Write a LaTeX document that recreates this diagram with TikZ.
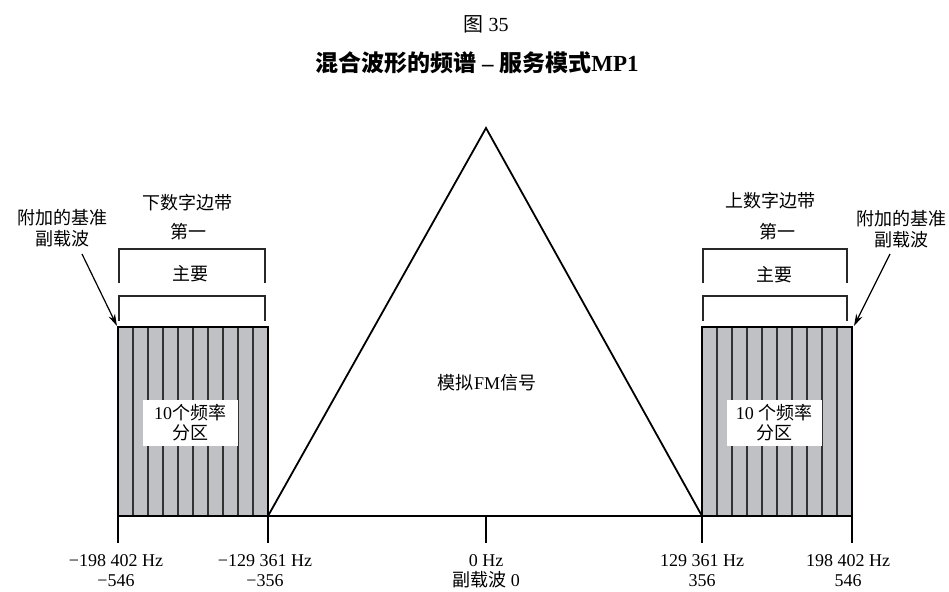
\documentclass[tikz,border=0pt]{standalone}
\usepackage{fontspec}
\setmainfont{Liberation Serif}
\newfontfamily\cjk{Noto Sans CJK SC}
\usetikzlibrary{calc,arrows.meta}
\definecolor{bandgray}{RGB}{192,193,197}
\definecolor{stripegray}{RGB}{50,50,50}
\definecolor{brgray}{RGB}{40,40,40}
\tikzset{
  lbl/.style={inner sep=0pt, font=\fontsize{18}{21}\selectfont, align=center},
  band/.style={draw=black, line width=2.4pt, fill=bandgray, inner sep=0pt, outer sep=0pt, anchor=north west},
  stripe/.style={draw=stripegray, line width=1.2pt},
  brk/.style={draw=brgray, line width=1.2pt},
  axis/.style={draw=black, line width=1.8pt},
  tick/.style={draw=black, line width=1.4pt},
  arr/.style={draw=black, line width=1.2pt, -{Stealth[length=12pt,width=7pt]}},
  whitebox/.style={fill=white, inner sep=0pt, minimum width=95pt, minimum height=46pt, font=\fontsize{18}{20}\selectfont, align=center},
}
\begin{document}
\begin{tikzpicture}[x=1pt,y=-1pt]
\path[use as bounding box] (0,0) rectangle (949,591);
% titles
\node[lbl, font=\fontsize{20}{22}\selectfont] (fig) at (486,24) {{\cjk 图} 35};
\node[lbl, font=\fontsize{23}{26}\selectfont\bfseries] (title) at (477,63) {{\cjk\bfseries 混合波形的频谱} – {\cjk\bfseries 服务模式}MP1};
% bands
\node[band, minimum width=150pt, minimum height=189pt] (lb) at (118,327) {};
\node[band, minimum width=150pt, minimum height=189pt] (rb) at (702,327) {};
\foreach \k in {1,...,9}{
  \draw[stripe] ($(lb.north west)!\k/10!(lb.north east)$) -- ($(lb.south west)!\k/10!(lb.south east)$);
  \draw[stripe] ($(rb.north west)!\k/10!(rb.north east)$) -- ($(rb.south west)!\k/10!(rb.south east)$);
}
\draw[draw=black, line width=2.4pt] (lb.north west) rectangle (lb.south east);
\draw[draw=black, line width=2.4pt] (rb.north west) rectangle (rb.south east);
% triangle
\coordinate (apex) at (486,128);
\draw[axis, line join=miter] (lb.south east) -- (apex) -- (rb.south west);
% axis and ticks
\draw[axis] (lb.south west) -- (rb.south east);
\coordinate (zero) at (486,516);
\draw[tick] (lb.south west) -- ++(0,27);
\draw[tick] (lb.south east) -- ++(0,27);
\draw[tick] (zero) -- ++(0,27);
\draw[tick] (rb.south west) -- ++(0,27);
\draw[tick] (rb.south east) -- ++(0,27);
% brackets left
\draw[brk] (119,283) -- (119,249) -- (265,249) -- (265,283);
\draw[brk] (119,321) -- (119,296) -- (265,296) -- (265,321);
% brackets right
\draw[brk] (703,283) -- (703,249) -- (847,249) -- (847,283);
\draw[brk] (703,321) -- (703,296) -- (847,296) -- (847,321);
% labels above
\node[lbl] (lsb) at (187,203) {\cjk 下数字边带};
\node[lbl] (lfirst) at (188,232) {\cjk 第一};
\node[lbl] (lmain) at (190,274) {\cjk 主要};
\node[lbl] (usb) at (770,201) {\cjk 上数字边带};
\node[lbl] (ufirst) at (777,232) {\cjk 第一};
\node[lbl] (umain) at (774,275) {\cjk 主要};
\node[lbl] (lnote) at (62,228) {\cjk 附加的基准\\\cjk 副载波};
\node[lbl] (rnote) at (901,229) {\cjk 附加的基准\\\cjk 副载波};
\coordinate (la) at (82,254);
\coordinate (ra) at (890,254);
\draw[arr] (la) -- ($(lb.north west)+(-1,-1)$);
\draw[arr] (ra) -- ($(rb.north east)+(2,-1)$);
% center label
\node[lbl] (fm) at (487,383) {{\cjk 模拟}FM{\cjk 信号}};
% partition boxes
\node[whitebox] (lpart) at (190,423) {10{\cjk 个频率}\\{\cjk 分区}};
\node[whitebox] (rpart) at (774,423) {10 {\cjk 个频率}\\{\cjk 分区}};
% bottom labels
\node[lbl] (f1) at (116,561) {−198 402 Hz};
\node[lbl] (s1) at (116,581) {−546};
\node[lbl] (f2) at (265,561) {−129 361 Hz};
\node[lbl] (s2) at (265,581) {−356};
\node[lbl] (f3) at (486,561) {0 Hz};
\node[lbl] (s3) at (486,580) {{\cjk 副载波} 0};
\node[lbl] (f4) at (702,561) {129 361 Hz};
\node[lbl] (s4) at (702,581) {356};
\node[lbl] (f5) at (848,561) {198 402 Hz};
\node[lbl] (s5) at (848,581) {546};
\end{tikzpicture}
\end{document}
